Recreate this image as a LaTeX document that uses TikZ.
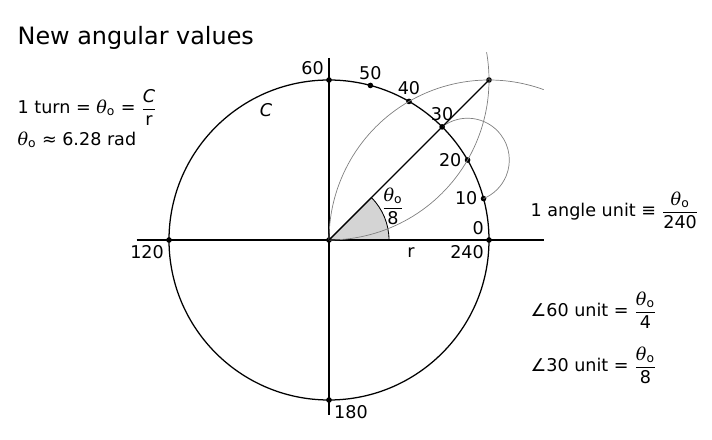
\documentclass[tikz,border=0pt]{standalone}
\usepackage{fontspec}
\setmainfont{DejaVu Sans}
\newfontfamily\thetafont{DejaVu Serif}
\usepackage{amsmath}
\usetikzlibrary{positioning}

\newcommand{\thetao}{\text{{\thetafont\itshape θ}\textsubscript{o}}}

\tikzset{
	dot/.style={circle, fill=black, inner sep=0pt, minimum size=4pt},
	tick/.style={font=\fontsize{12.5}{15}\selectfont, inner sep=1.5pt},
	side/.style={font=\fontsize{12.5}{15}\selectfont, anchor=west, inner sep=0pt},
	guide/.style={gray, line width=0.5pt},
}

\begin{document}
\begin{tikzpicture}[line width=0.9pt]
			\useasboundingbox (-8.225,-5) rectangle (9.575,6);
			
			% shaded angle
			\filldraw[fill=black!17, line width=0.6pt] (0,0) -- (1.5,0) arc[start angle=0, end angle=45, radius=1.5] -- cycle;
			
			\draw (-4.81,0) -- (5.375,0);		% x axis
			\draw (0,4.55) -- (0,-4.375);		% y axis
			\draw (0,0) circle (4);			% unit circle
			
			% points on the circle
			\foreach \u in {0,10,...,60}{
				\node[dot] (p\u) at (1.5*\u:4) {};
			}
			\node[dot] (p120) at (180:4) {};
			\node[dot] (p180) at (270:4) {};
			\node[dot] (o) at (0,0) {};
			\node[dot] (corner) at (4,4) {};
			
			% drawing guide arcs
			\draw[guide] (o.center) arc[start angle=-90, end angle=10, radius=4];
			\draw[guide] (o.center) arc[start angle=180, end angle=70, radius=4];
			\draw[guide] (p30.center) arc[start angle=127.5, end angle=-67.5, radius=1.0442];
			
			\draw (o.center) -- (corner.center);		% diagonal
			
			% labels of the points
			\node[tick, above left=0pt of p60] (l60) {60};
			\node[tick, above=0pt of p50] (l50) {50};
			\node[tick, above=0pt of p40] (l40) {40};
			\node[tick, above=0pt of p30] (l30) {30};
			\node[tick, left=0pt of p20] (l20) {20};
			\node[tick, left=0pt of p10] (l10) {10};
			\node[tick, above left=0pt of p0] (l0) {0};
			\node[tick, below left=0pt of p0] (l240) {240};
			\node[tick, below left=0pt of p120] (l120) {120};
			\node[tick, below right=0pt of p180] (l180) {180};
			
			\node[tick] (circ) at (-1.575,3.25) {\textit{C}};
			\node[tick] (rad) at (2.05,-0.325) {r};
			\node[tick] (eighth) at (1.6,0.85) {$\dfrac{\thetao}{\text{8}}$};
			
			% text on the sides
			\node[side, anchor=base west, font=\fontsize{17}{20}\selectfont] (title) at (-7.8,4.875) {New angular values};
			\node[side] (turn) at (-7.8,3.325) {1 turn = $\thetao$ = $\dfrac{\textit{C}}{\text{r}}$};
			\node[side] (approx) at (-7.8,2.5) {$\thetao$ ≈ 6.28 rad};
			\node[side] (unit) at (5.025,0.75) {1 angle unit ≡ $\dfrac{\thetao}{\text{240}}$};
			\node[side] (u60) at (5.025,-1.75) {∠60 unit = $\dfrac{\thetao}{\text{4}}$};
			\node[side] (u30) at (5.025,-3.125) {∠30 unit = $\dfrac{\thetao}{\text{8}}$};
			
\end{tikzpicture}
\end{document}
